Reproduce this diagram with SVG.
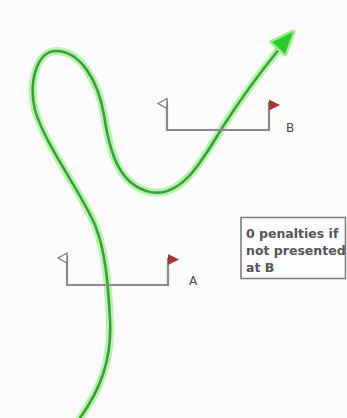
<svg xmlns="http://www.w3.org/2000/svg" width="347" height="418" viewBox="0 0 347 418">
<style>
.pole{fill:none;stroke:#8a8a8a;stroke-width:2.2}
.hollow{fill:#fff;stroke:#777;stroke-width:1.3}
.red{fill:#a03a32;stroke:none}
.lbl{font-family:"DejaVu Sans",Verdana,sans-serif;font-size:12px;fill:#4a4a4a}
.note{font-family:"DejaVu Sans",Verdana,sans-serif;font-size:12.5px;font-weight:bold;fill:#555}
.glow{fill:none;stroke:#b8f5ac;stroke-width:8;stroke-linecap:round}
.line{fill:none;stroke:#3e9e3e;stroke-width:2.6;stroke-linecap:round}
</style>
<defs>
<path id="route" d="M 80 418 C 100 390, 112 360, 110 320 C 108 280, 105 250, 95 225 C 80 190, 45 145, 35 110 C 28 80, 38 51, 56 51 C 80 51, 98 80, 104 115 C 110 155, 120 185, 150 192 C 180 198, 200 165, 222 128 C 240 100, 258 75, 280 48"/>
</defs>
<rect width="347" height="418" fill="#fbfbfb"/>
<g id="connectors">
<use href="#route" class="glow"/>
<use href="#route" class="line"/>
<polygon points="293,32 272,42 285,54" fill="#9ef08c" stroke="#9ef08c" stroke-width="5" stroke-linejoin="round"/>
<polygon points="293,32 272,42 285,54" fill="#2ec92e"/>
</g>
<g id="gateB">
<polyline class="pole" points="167,101 167,130 269,130 269,102"/>
<polygon class="hollow" points="158,103.5 167,98.5 167,108.5"/>
<polygon class="red" points="269,99.5 280,105 269,110.5"/>
<text class="lbl" x="286" y="132">B</text>
</g>
<g id="gateA">
<polyline class="pole" points="67,256 67,285 168,285 168,258"/>
<polygon class="hollow" points="58,258 67,253 67,263"/>
<polygon class="red" points="168,254 179,259.5 168,265"/>
<text class="lbl" x="189" y="285">A</text>
</g>
<g id="note">
<rect x="241" y="217.5" width="104.5" height="61" fill="#fcfcfc" stroke="#777" stroke-width="1.5"/>
<text class="note" x="246" y="238">0 penalties if</text>
<text class="note" x="246" y="255">not presented</text>
<text class="note" x="246" y="272">at B</text>
</g>
</svg>
